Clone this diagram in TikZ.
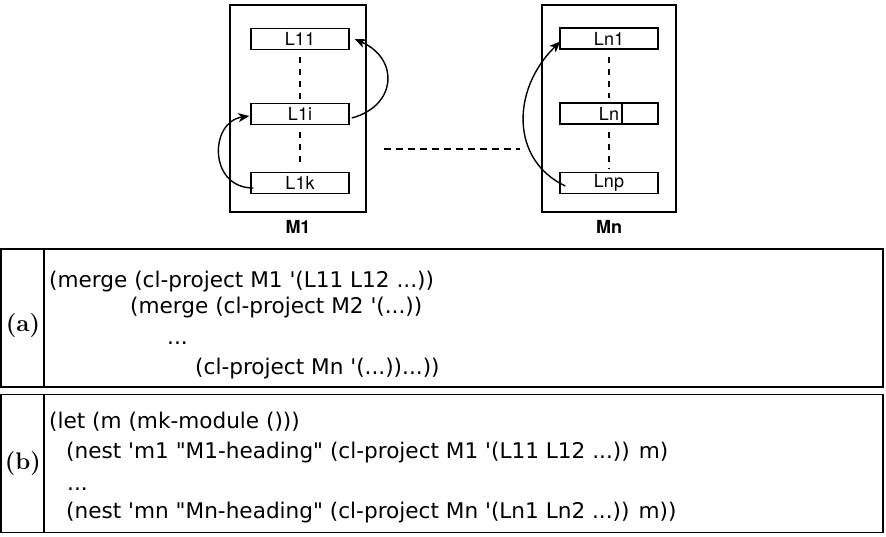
\documentclass[tikz,border=0pt]{standalone}
\usepackage{fontspec}
\newfontfamily\helv{TeX Gyre Heros}
\newfontfamily\codefont{DejaVu Sans}
\usetikzlibrary{arrows.meta}
\tikzset{
  module/.style={draw, line width=1.7pt, inner sep=0pt},
  lbox/.style={draw, line width=1.4pt, minimum width=98pt, minimum height=21pt, inner sep=0pt,
    font=\helv\fontsize{18}{18}\selectfont},
  modlabel/.style={font=\helv\bfseries\fontsize{18}{18}\selectfont},
  vdash/.style={line width=1.8pt, dash pattern=on 6pt off 6pt},
  hdash/.style={line width=2pt, dash pattern=on 7pt off 5pt},
  arr/.style={line width=1.4pt, -{Stealth[length=11pt,width=9pt,inset=3pt]}},
  panel/.style={draw, line width=1.6pt, inner sep=0pt, minimum width=882pt, minimum height=138pt},
  codeline/.style={anchor=base west, inner sep=0pt, font=\codefont\fontsize{21.6}{21.6}\selectfont},
  tag/.style={anchor=base, inner sep=0pt, font=\rmfamily\bfseries\fontsize{24}{24}\selectfont},
}
\newcommand{\q}{\textquotesingle}
\begin{document}
\begin{tikzpicture}[x=1pt,y=-1pt]
\useasboundingbox (0,0) rectangle (886,536);
% modules
\node[module, minimum width=136pt, minimum height=207pt] (M1) at (298,108.5) {};
\node[module, minimum width=134pt, minimum height=207pt] (Mn) at (609,108.5) {};
\node[lbox] (L11) at (300,39) {L11};
\node[lbox] (L1i) at (300,114) {L1i};
\node[lbox] (L1k) at (300,183) {L1k};
\node[lbox] (Ln1) at (609,38.5) {Ln1};
\node[lbox] (Lnj) at (609,113.5) {Ln};
\node[lbox] (Lnp) at (609,183) {Lnp};
\draw[line width=1.4pt] ([xshift=13pt]Lnj.north) -- ([xshift=13pt]Lnj.south);
\node[modlabel] (lM1) at (298,227) {M1};
\node[modlabel] (lMn) at (609,227) {Mn};
% dashed connectors
\draw[vdash, shorten <=7pt, shorten >=4pt] (L11.south) -- (L1i.north);
\draw[vdash, shorten <=7pt, shorten >=4pt] (L1i.south) -- (L1k.north);
\draw[vdash, shorten <=7pt, shorten >=4pt] (Ln1.south) -- (Lnj.north);
\draw[vdash, shorten <=7pt, shorten >=4pt] (Lnj.south) -- (Lnp.north);
\draw[hdash, shorten <=17pt, shorten >=21pt] ([yshift=-40pt]M1.east) -- ([yshift=-40pt]Mn.west);
% curved arrows
\draw[arr] ([xshift=2pt,yshift=-4pt]L1i.east) .. controls +(45,-12) and +(45,20) .. ([xshift=5pt]L11.east);
\draw[arr] ([xshift=3pt,yshift=-5pt]L1k.west) .. controls +(-45,0) and +(-40,6) .. ([xshift=-1pt,yshift=-2pt]L1i.west);
\draw[arr] ([xshift=6pt,yshift=-3pt]Lnp.west) .. controls +(-55,-26) and +(-49,48) .. ([xshift=1pt,yshift=-3pt]Ln1.west);
% panels
\node[panel] (PA) at (442,318) {};
\node[panel] (PB) at (442,463.5) {};
\draw[line width=1.6pt] ([xshift=44pt]PA.north west) -- ([xshift=44pt]PA.south west);
\draw[line width=1.6pt] ([xshift=44pt]PB.north west) -- ([xshift=44pt]PB.south west);
\node[tag] (ta) at (23,331) {(a)};
\node[tag] (tb) at (23,469) {(b)};
\node[codeline] (a1) at (49,287) {(merge (cl-project M1 \q(L11 L12 ...))};
\node[codeline] (a2) at (130,313) {(merge (cl-project M2 \q(...))};
\node[codeline] (a3) at (167,344) {...};
\node[codeline] (a4) at (195,374) {(cl-project Mn \q(...))...))};
\node[codeline] (b1) at (49,428) {(let (m (mk-module ()))};
\node[codeline] (b2) at (66,458) {(nest \q m1 "M1-heading" (cl-project M1 \q(L11 L12 ...)) m)};
\node[codeline] (b3) at (67,490) {...};
\node[codeline] (b4) at (66,518) {(nest \q mn "Mn-heading" (cl-project Mn \q(Ln1 Ln2 ...)) m))};
\end{tikzpicture}
\end{document}
